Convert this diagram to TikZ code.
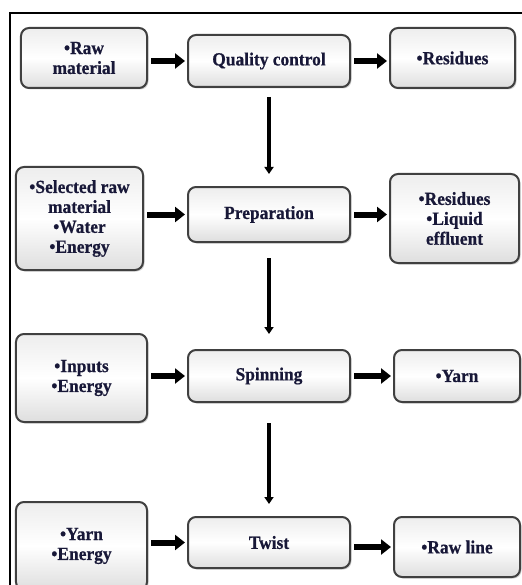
\documentclass[tikz,border=0pt]{standalone}
\usepackage{fontspec}
\setmainfont{Liberation Serif}[BoldFeatures={FakeStretch=0.94,FakeBold=0.6}]
\usetikzlibrary{arrows.meta,shadows}
\definecolor{txt}{RGB}{24,24,56}
\definecolor{edgec}{RGB}{64,64,64}
\begin{document}
\begin{tikzpicture}[x=1bp,y=-1bp,
 box/.style={draw=edgec, line width=2bp, rounded corners=8bp,
   top color=gray!14, bottom color=gray!26, middle color=white,
   drop shadow={shadow xshift=1.5bp, shadow yshift=-1.5bp, opacity=0.35, fill=gray},
   text=txt, font=\fontsize{18.6}{20}\selectfont\bfseries, align=center, inner sep=0pt},
 harrow/.style={line width=6bp, -{Triangle[length=10bp,width=15bp]}, shorten <=3bp, shorten >=2bp},
 varrow/.style={line width=3.5bp, -{Triangle[length=7bp,width=9bp]}}
]
\useasboundingbox (0,0) rectangle (522,585);
\clip (0,0) rectangle (522,585);
\draw[line width=1.8bp] (10,13) rectangle (540,620);

% row 1
\node[box, minimum width=126bp, minimum height=60bp] (a1) at (84,58) {•Raw\\material};
\node[box, minimum width=162bp, minimum height=52bp] (q) at (269,61) {Quality control};
\node[box, minimum width=125bp, minimum height=60bp] (r1) at (452.5,58) {•Residues};
% row 2
\node[box, minimum width=127bp, minimum height=103bp] (a2) at (79.5,218.5) {•Selected raw\\material\\•Water\\•Energy};
\node[box, minimum width=162bp, minimum height=55bp] (p) at (269,214.5) {Preparation};
\node[box, minimum width=129bp, minimum height=89bp] (r2) at (454.5,218.5) {•Residues\\•Liquid\\effluent};
% row 3
\node[box, minimum width=131bp, minimum height=88bp] (a3) at (81.5,378) {•Inputs\\•Energy};
\node[box, minimum width=162bp, minimum height=52bp] (s) at (269,376) {Spinning};
\node[box, minimum width=126bp, minimum height=52bp] (y) at (457,376) {•Yarn};
% row 4
\node[box, minimum width=131bp, minimum height=88bp] (a4) at (81.5,546) {\raisebox{6bp}{\begin{tabular}{@{}c@{}}•Yarn\\•Energy\end{tabular}}};
\node[box, minimum width=162bp, minimum height=51bp] (t) at (269,542.5) {Twist};
\node[box, minimum width=126bp, minimum height=60bp] (rl) at (457,547) {•Raw line};

% horizontal arrows
\draw[harrow] (a1.east |- q) -- (q.west);
\draw[harrow] (q.east) -- (q.east -| r1.west);
\draw[harrow] (a2.east |- p) -- (p.west);
\draw[harrow] (p.east) -- (p.east -| r2.west);
\draw[harrow] (a3.east |- s) -- (s.west);
\draw[harrow] (s.east) -- (s.east -| y.west);
\draw[harrow] (a4.east |- t) -- (t.west);
\draw[harrow] (t.east |- rl) -- (rl.west);

% vertical arrows
\draw[varrow, shorten <=9bp, shorten >=12bp] (q.south) -- (p.north);
\draw[varrow, shorten <=15bp, shorten >=15bp] (p.south) -- (s.north);
\draw[varrow, shorten <=20bp, shorten >=12bp] (s.south) -- (t.north);
\end{tikzpicture}
\end{document}
